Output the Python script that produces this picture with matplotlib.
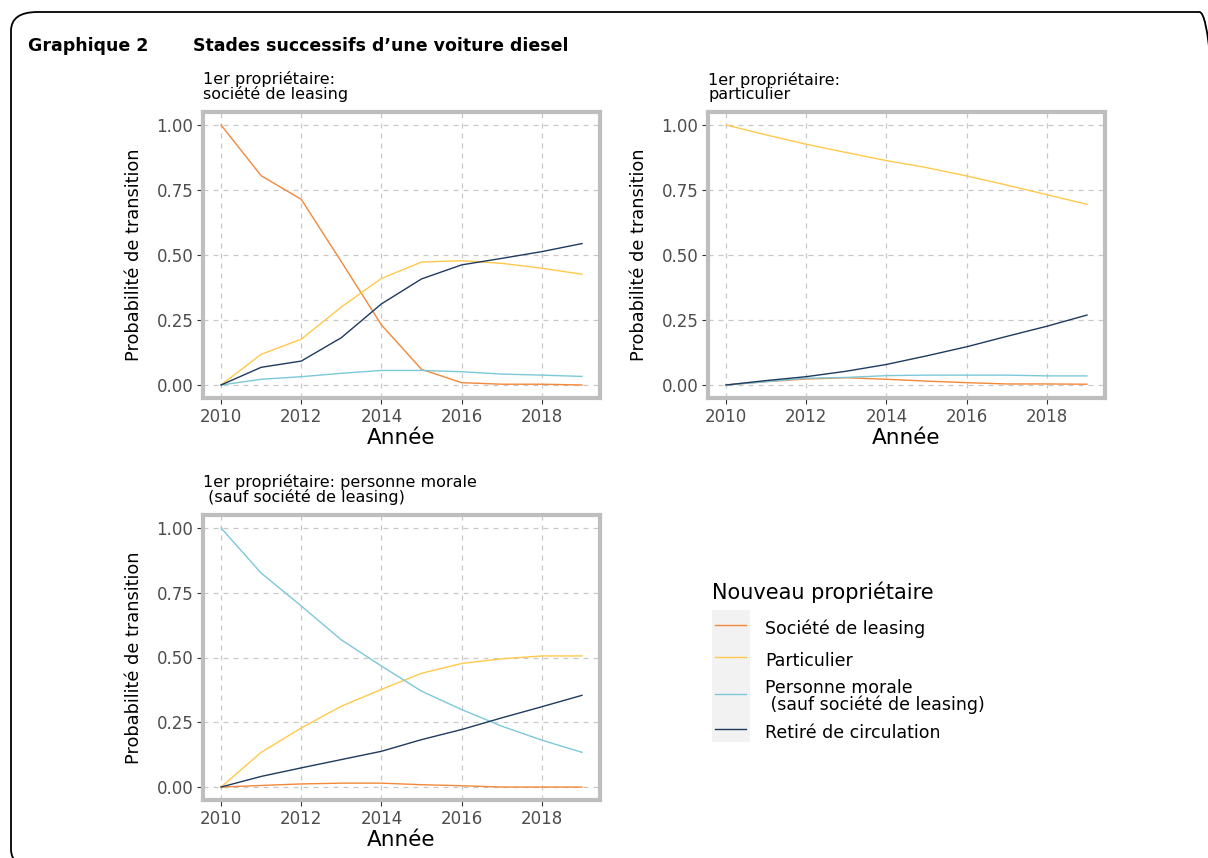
import matplotlib
matplotlib.use("Agg")
from matplotlib import pyplot as plt
from matplotlib.patches import FancyBboxPatch, Rectangle
from matplotlib.lines import Line2D

years = list(range(2010, 2020))

series_names = ["Société de leasing", "Particulier",
                "Personne morale\n (sauf société de leasing)", "Retiré de circulation"]
colors = ["#F4883A", "#FFC94A", "#7CC8D8", "#1E3A5F"]

# 1er propriétaire: société de leasing
leasing_leasing = [1.0, 0.805, 0.714, 0.474, 0.231, 0.060, 0.009, 0.003, 0.003, 0.0]
leasing_part = [0.0, 0.118, 0.176, 0.300, 0.410, 0.473, 0.478, 0.468, 0.449, 0.426]
leasing_morale = [0.0, 0.022, 0.032, 0.045, 0.056, 0.056, 0.051, 0.042, 0.038, 0.033]
leasing_retire = [0.0, 0.068, 0.092, 0.182, 0.312, 0.408, 0.462, 0.487, 0.513, 0.544]

# 1er propriétaire: particulier
part_leasing = [0.0, 0.013, 0.023, 0.028, 0.022, 0.015, 0.009, 0.004, 0.004, 0.003]
part_part = [1.0, 0.962, 0.926, 0.894, 0.863, 0.836, 0.804, 0.769, 0.732, 0.695]
part_morale = [0.0, 0.013, 0.026, 0.029, 0.036, 0.038, 0.038, 0.038, 0.035, 0.035]
part_retire = [0.0, 0.017, 0.032, 0.053, 0.079, 0.112, 0.147, 0.187, 0.226, 0.269]

# 1er propriétaire: personne morale
morale_leasing = [0.0, 0.006, 0.012, 0.015, 0.015, 0.009, 0.005, 0.0, 0.0, 0.0]
morale_part = [0.0, 0.134, 0.228, 0.312, 0.377, 0.439, 0.477, 0.495, 0.506, 0.506]
morale_morale = [1.0, 0.826, 0.699, 0.568, 0.467, 0.370, 0.299, 0.235, 0.181, 0.134]
morale_retire = [0.0, 0.041, 0.074, 0.106, 0.138, 0.183, 0.222, 0.267, 0.310, 0.354]

panels = [
    ("1er propriétaire:\nsociété de leasing",
     [leasing_leasing, leasing_part, leasing_morale, leasing_retire], (203, 112, 600, 398)),
    ("1er propriétaire:\nparticulier",
     [part_leasing, part_part, part_morale, part_retire], (708, 112, 1105, 398)),
    ("1er propriétaire: personne morale\n (sauf société de leasing)",
     [morale_leasing, morale_part, morale_morale, morale_retire], (203, 515, 600, 800)),
]

W, H = 1208, 858
plt.rcParams["font.family"] = ["DejaVu Sans"]

fig = plt.figure(figsize=(W / 100, H / 100), dpi=100)


def fx(px):
    return px / W


def fy(py):
    return 1 - py / H


# rounded frame, running off the right and bottom edges
frame = FancyBboxPatch((fx(11), fy(868)), fx(1226) - fx(11), fy(12) - fy(868),
                       boxstyle="round,pad=0,rounding_size=0.022",
                       transform=fig.transFigure, fill=False, edgecolor="black",
                       linewidth=1.3, clip_on=False)
fig.patches.append(frame)

fig.text(fx(28), fy(46), "Graphique 2", fontsize=12.5, fontweight="bold",
         va="center", ha="left")
fig.text(fx(193), fy(46), "Stades successifs d\u2019une voiture diesel", fontsize=12.5,
         fontweight="bold", va="center", ha="left")

for title, data, (x0, y0, x1, y1) in panels:
    ax = fig.add_axes([fx(x0), fy(y1), fx(x1) - fx(x0), fy(y0) - fy(y1)])
    for values, c in zip(data, colors):
        ax.plot(years, values, color=c, linewidth=1.0)
    ax.set_xlim(2009.55, 2019.45)
    ax.set_ylim(-0.05, 1.05)
    ax.set_xticks([2010, 2012, 2014, 2016, 2018])
    ax.set_yticks([0, 0.25, 0.5, 0.75, 1.0])
    ax.set_yticklabels(["0.00", "0.25", "0.50", "0.75", "1.00"])
    ax.grid(True, color="#C8C8C8", linestyle=(0, (4, 4)), linewidth=0.9)
    ax.set_axisbelow(True)
    for s in ax.spines.values():
        s.set_color("#BEBEBE")
        s.set_linewidth(3)
    ax.tick_params(colors="#333333", labelcolor="#4D4D4D", labelsize=12,
                   length=4, width=0.8, pad=3)
    ax.set_xlabel("Année", fontsize=15.5, labelpad=2)
    ax.set_ylabel("Probabilité de transition", fontsize=12.8, labelpad=10)
    ax.text(0, 1.035, title, transform=ax.transAxes, fontsize=11.5, va="bottom",
            ha="left", linespacing=0.9)

# legend
fig.text(fx(712), fy(592), "Nouveau propriétaire", fontsize=15, va="center", ha="left")
fig.patches.append(Rectangle((fx(712), fy(742)), fx(750) - fx(712), fy(610) - fy(742),
                             transform=fig.transFigure, facecolor="#F2F2F2",
                             edgecolor="none", zorder=0))
handles = [Line2D([], [], color=c, linewidth=1.0) for c in colors]
leg = fig.legend(handles, series_names,
                 loc="upper left", bbox_to_anchor=(fx(715), fy(616)),
                 frameon=False, fontsize=12.5,
                 borderpad=0, borderaxespad=0, handleheight=1.9,
                 handlelength=1.8, handletextpad=1.1, labelspacing=0.33)
leg.get_texts()[2].set_linespacing(0.9)

fig.savefig("out.png", dpi=100)
